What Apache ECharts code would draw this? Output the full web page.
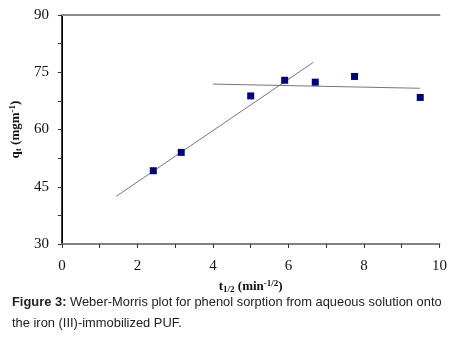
<!DOCTYPE html>
<html>
<head>
<meta charset="utf-8">
<script src="https://cdn.jsdelivr.net/npm/echarts@6/dist/echarts.min.js"></script>
<style>
  html, body { margin: 0; padding: 0; background: #fff; }
  #chart { width: 450px; height: 342px; }
</style>
</head>
<body>
<div id="chart"></div>
<script>
// 数据
var sqrtTime = [2.42, 3.16, 5.0, 5.9, 6.71, 7.75, 9.49];
var qtValues = [49.2, 54.0, 68.8, 72.9, 72.4, 73.9, 68.4];
// 两条拟合直线的端点
var fitLine1 = [[1.44, 42.5], [6.66, 77.6]];
var fitLine2 = [[4.0, 71.9], [9.48, 70.8]];
var yLabels = [30, 45, 60, 75, 90];

(function() {
    var myChart = echarts.init(document.getElementById('chart'));

    var points = [];
    for (var i = 0; i < sqrtTime.length; i++) {
        points.push([sqrtTime[i], qtValues[i]]);
    }

    var serif = '"Liberation Serif", "DejaVu Serif", serif';
    var sans = '"Liberation Sans", Arial, sans-serif';

    var titleRich = {
        b: { fontFamily: serif, fontSize: 13, fontWeight: 'bold', color: '#111' },
        sub: { fontFamily: serif, fontSize: 9, fontWeight: 'bold', color: '#111', verticalAlign: 'bottom', padding: [6, 0, 0, 0] },
        sup: { fontFamily: serif, fontSize: 9, fontWeight: 'bold', color: '#111', verticalAlign: 'top', padding: [0, 0, 6, 0] }
    };

    var option = {
        animation: false,
        backgroundColor: '#fff',
        grid: {
            left: 57,
            right: 8,
            top: 15,
            bottom: 98
        },
        xAxis: [{
            type: 'value',
            min: 0,
            max: 10,
            interval: 1,
            axisLine: { lineStyle: { color: '#808080', width: 2 } },
            axisTick: { show: true, length: 4, lineStyle: { color: '#333' } },
            splitLine: { show: false },
            axisLabel: {
                margin: 15,
                fontFamily: serif,
                fontSize: 15,
                color: '#111',
                formatter: function(v) { return v % 2 === 0 ? v : ''; }
            },
            name: '{b|t}{sub|1/2}{b| (min}{sup|-1/2}{b|)}',
            nameLocation: 'middle',
            nameGap: 32,
            nameTextStyle: { rich: titleRich }
        }, {
            // 顶部灰色边框
            type: 'value',
            position: 'top',
            min: 0,
            max: 10,
            axisLine: { show: true, lineStyle: { color: '#8a8a8a', width: 2 } },
            axisTick: { show: false },
            axisLabel: { show: false },
            splitLine: { show: false }
        }],
        yAxis: [{
            type: 'value',
            min: 30,
            max: 90,
            interval: 7.5,
            axisLine: { show: true, lineStyle: { color: '#000', width: 1 } },
            axisTick: { show: true, length: 4, lineStyle: { color: '#333' } },
            splitLine: { show: false },
            axisLabel: {
                margin: 13,
                fontFamily: serif,
                fontSize: 15,
                color: '#111',
                formatter: function(v) { return yLabels.indexOf(v) >= 0 ? v : ''; }
            },
            name: '{b|q}{sub|t}{b| (mgm}{sup|-1}{b|)}',
            nameLocation: 'middle',
            nameGap: 38,
            nameTextStyle: { rich: titleRich }
        }, {
            // 右侧黑色边框
            type: 'value',
            position: 'right',
            min: 30,
            max: 90,
            axisLine: { show: true, lineStyle: { color: '#000', width: 1.5 } },
            axisTick: { show: false },
            axisLabel: { show: false },
            splitLine: { show: false }
        }],
        graphic: [{
            type: 'text',
            left: 12,
            top: 292,
            style: {
                text: '{b|Figure 3:} Weber-Morris plot for phenol sorption from aqueous solution onto\nthe iron (III)-immobilized PUF.',
                fontFamily: sans,
                fontSize: 12.9,
                lineHeight: 21,
                fill: '#222',
                rich: {
                    b: { fontFamily: sans, fontSize: 12.9, fontWeight: 'bold', fill: '#222' }
                }
            }
        }],
        series: [{
            type: 'line',
            data: fitLine1,
            symbol: 'none',
            silent: true,
            lineStyle: { color: '#777', width: 1 }
        }, {
            type: 'line',
            data: fitLine2,
            symbol: 'none',
            silent: true,
            lineStyle: { color: '#777', width: 1 }
        }, {
            type: 'scatter',
            data: points,
            symbol: 'rect',
            symbolSize: 7,
            itemStyle: { color: '#000080', opacity: 1 },
            z: 5
        }]
    };

    myChart.setOption(option);
})();
</script>
</body>
</html>
